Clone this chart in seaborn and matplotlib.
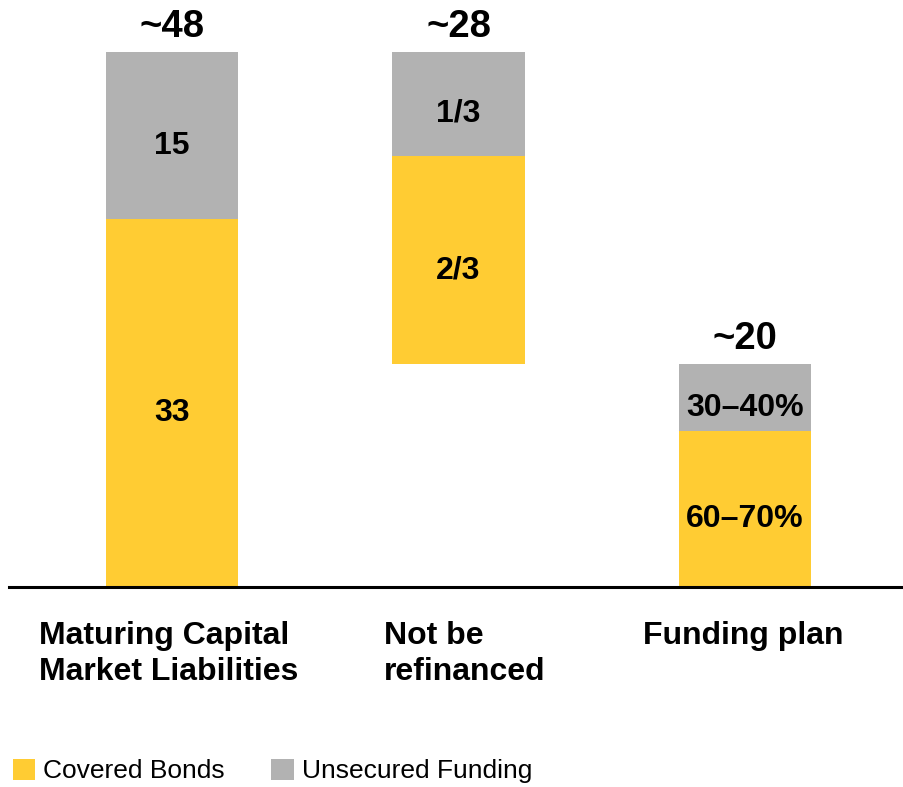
import matplotlib
matplotlib.use("Agg")
import matplotlib.pyplot as plt
import matplotlib.transforms as mtransforms
from matplotlib.patches import Patch
import seaborn as sns

# Capital market funding bridge (EUR bn)
categories = ["Maturing Capital\nMarket Liabilities", "Not be\nrefinanced", "Funding plan"]
covered = [33, 18.67, 14]
unsecured = [15, 9.33, 6]
base = [0, 20, 0]
total_labels = ["~48", "~28", "~20"]
covered_labels = ["33", "2/3", "60–70%"]
unsecured_labels = ["15", "1/3", "30–40%"]
legend_labels = ["Covered Bonds", "Unsecured Funding"]

YELLOW = "#FFCC33"
GRAY = "#B2B2B2"

sns.set_theme(style="white")
plt.rcParams["font.family"] = ["Liberation Sans", "DejaVu Sans"]
plt.rcParams["text.color"] = "black"

W, H = 904, 787
fig = plt.figure(figsize=(W / 100, H / 100), dpi=100)
ax = fig.add_axes([9 / W, (H - 587) / H, (W - 9) / W, 587 / H])

bar_w = 0.4615
unsec_base = [b + c for b, c in zip(base, covered)]

sns.barplot(x=categories, y=covered, bottom=base, color=YELLOW, saturation=1,
            width=bar_w, linewidth=0, ax=ax)
sns.barplot(x=categories, y=unsecured, bottom=unsec_base, color=GRAY, saturation=1,
            width=bar_w, linewidth=0, ax=ax)

ax.set_xlim(-0.570, 2.556)
ax.set_ylim(0, 52.66)
ax.set_xticks([])
ax.set_yticks([])
ax.set_xlabel("")
ax.set_ylabel("")
for side in ("left", "top", "right"):
    ax.spines[side].set_visible(False)
ax.spines["bottom"].set_color("black")
ax.spines["bottom"].set_linewidth(2.2)

down = mtransforms.offset_copy(ax.transData, fig=fig, x=0, y=-10, units="dots")

for i in range(len(categories)):
    # segment values
    ax.text(i, base[i] + covered[i] / 2, covered_labels[i], transform=down,
            ha="center", va="center", fontsize=23, fontweight="bold", color="black")
    ax.text(i, unsec_base[i] + unsecured[i] / 2, unsecured_labels[i], transform=down,
            ha="center", va="center", fontsize=23, fontweight="bold", color="black")
    # totals above the bars
    top = unsec_base[i] + unsecured[i]
    ax.annotate(total_labels[i], (i, top), xytext=(0, 18), textcoords="offset points",
                ha="center", va="center", fontsize=27.5, fontweight="bold", color="black",
                annotation_clip=False)

# category names, left aligned under each bar
label_x = [-0.465, 0.741, 1.643]
blend = mtransforms.blended_transform_factory(ax.transData, ax.transAxes)
for x, name in zip(label_x, categories):
    ax.text(x, -0.058, name, transform=blend, ha="left", va="top",
            fontsize=23, fontweight="bold", color="black", linespacing=1.25,
            clip_on=False)

handles = [Patch(facecolor=YELLOW, edgecolor="none"), Patch(facecolor=GRAY, edgecolor="none")]
fig.legend(handles, legend_labels, loc="center left", bbox_to_anchor=(13 / W, 16 / H),
           ncol=2, frameon=False, fontsize=19, handlelength=0.85, handleheight=0.85,
           handletextpad=0.3, columnspacing=1.75, borderpad=0, borderaxespad=0,
           labelcolor="black")

fig.savefig("out.png", dpi=100)
